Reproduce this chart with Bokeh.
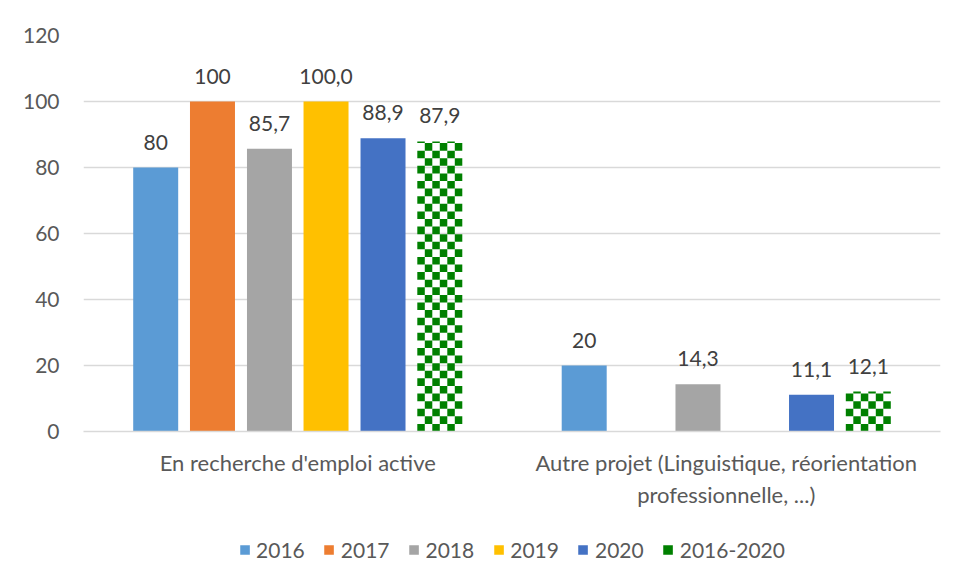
from bokeh.plotting import figure
from bokeh.layouts import column
from bokeh.models import (ColumnDataSource, FixedTicker, Legend, LegendItem, Range1d)
from bokeh.core.properties import value
from bokeh.embed import file_html
from bokeh.resources import INLINE

# ---- data ----
categories = ["En recherche d'emploi active",
              "Autre projet (Linguistique, réorientation\nprofessionnelle, ...)"]
series = ["2016", "2017", "2018", "2019", "2020", "2016-2020"]
v2016 = [80, 20]
v2017 = [100, None]
v2018 = [85.7, 14.3]
v2019 = [100.0, None]
v2020 = [88.9, 11.1]
v_all = [87.9, 12.1]
lab2016 = ["80", "20"]
lab2017 = ["100", ""]
lab2018 = ["85,7", "14,3"]
lab2019 = ["100,0", ""]
lab2020 = ["88,9", "11,1"]
lab_all = ["87,9", "12,1"]
y_ticks = [0, 20, 40, 60, 80, 100, 120]

values = [v2016, v2017, v2018, v2019, v2020, v_all]
labels = [lab2016, lab2017, lab2018, lab2019, lab2020, lab_all]
colors = ["#5B9BD5", "#ED7D31", "#A5A5A5", "#FFC000", "#4472C4", "#008000"]
offsets = [-0.3315, -0.199, -0.066, 0.066, 0.199, 0.3315]
bar_w = 0.105
n_cols = 6          # checker columns per bar
cell_h = 2.3        # checker row height in data units

FONT = "Lato"
TXT = "#595959"

p = figure(frame_width=857, frame_height=396, output_backend="svg",
           toolbar_location=None,
           x_range=Range1d(0, 2), y_range=Range1d(0, 120),
           min_border_left=83, min_border_right=10, min_border_top=35,
           min_border_bottom=75)
p.outline_line_color = None
p.background_fill_color = "white"
p.border_fill_color = "white"

# axes
p.xaxis.ticker = FixedTicker(ticks=[0.5, 1.5])
p.xaxis.major_label_overrides = {0.5: categories[0], 1.5: categories[1]}
p.xaxis.major_tick_line_color = None
p.xaxis.minor_tick_line_color = None
p.xaxis.axis_line_color = "#D9D9D9"
p.xaxis.axis_line_width = 1.5
p.xaxis.major_label_text_font = FONT
p.xaxis.major_label_text_font_size = "22px"
p.xaxis.major_label_text_color = TXT
p.xaxis.major_label_standoff = 11

p.yaxis.ticker = FixedTicker(ticks=y_ticks)
p.yaxis.axis_line_color = None
p.yaxis.major_tick_line_color = None
p.yaxis.minor_tick_line_color = None
p.yaxis.major_label_text_font = FONT
p.yaxis.major_label_text_font_size = "21px"
p.yaxis.major_label_text_color = TXT
p.yaxis.major_label_standoff = 18

p.xgrid.grid_line_color = None
p.ygrid.ticker = FixedTicker(ticks=y_ticks)
p.ygrid.grid_line_color = "#D9D9D9"
p.ygrid.grid_line_width = 1.5

# legend strip under the chart: same data, ranges chosen so no bar is in view,
# only the legend is shown
pl = figure(width=950, height=78, output_backend="svg", toolbar_location=None,
            x_range=Range1d(0, 2), y_range=Range1d(1000, 1001),
            min_border_left=36, min_border_right=0, min_border_top=0,
            min_border_bottom=0)
pl.axis.visible = False
pl.grid.visible = False
pl.outline_line_color = None
pl.background_fill_color = "white"
pl.border_fill_color = "white"

items = []
for i, (name, vals, labs, col, off) in enumerate(zip(series, values, labels, colors, offsets)):
    xs, tops, ts = [], [], []
    for c, (v, t) in enumerate(zip(vals, labs)):
        if v is None:
            continue
        xs.append(c + 0.5 + off)
        tops.append(v)
        ts.append(t)
    src = ColumnDataSource(dict(x=xs, top=tops, lab=ts))
    if name == "2016-2020":
        L, R, B, T = [], [], [], []
        cw = bar_w / n_cols
        for x0, v in zip(xs, tops):
            left0 = x0 - bar_w / 2
            row = 0
            yb = 0.0
            while yb < v:
                yt = min(yb + cell_h, v)
                for cc in range(n_cols):
                    if (cc + row) % 2 == 0:
                        L.append(left0 + cc * cw)
                        R.append(left0 + (cc + 1) * cw)
                        B.append(yb)
                        T.append(yt)
                yb += cell_h
                row += 1
        qsrc = ColumnDataSource(dict(left=L, right=R, bottom=B, top=T))
        p.quad(left="left", right="right", bottom="bottom", top="top",
               source=qsrc, fill_color=col, line_color=None)
        lr = pl.quad(left="left", right="right", bottom="bottom", top="top",
                     source=qsrc, fill_color=col, line_color=None)
    else:
        p.vbar(x="x", top="top", width=bar_w, source=src, fill_color=col,
               line_color=None)
        lr = pl.vbar(x="x", top="top", width=bar_w, source=src, fill_color=col,
                     line_color=None)
    p.text(x="x", y="top", text="lab", source=src, text_align="center",
           text_baseline="bottom", y_offset=-18, text_font=value(FONT),
           text_font_size="21px", text_color="#404040")
    items.append(LegendItem(label=name, renderers=[lr]))

legend = Legend(items=items, orientation="horizontal", location="center",
                label_text_font=FONT, label_text_font_size="21px",
                label_text_color=TXT, glyph_width=12, glyph_height=12,
                spacing=18, label_standoff=6, border_line_color=None,
                background_fill_alpha=0, padding=0, margin=0)
pl.add_layout(legend, "center")

layout = column(p, pl, spacing=0)
open("out.html", "w").write(file_html(layout, INLINE))
